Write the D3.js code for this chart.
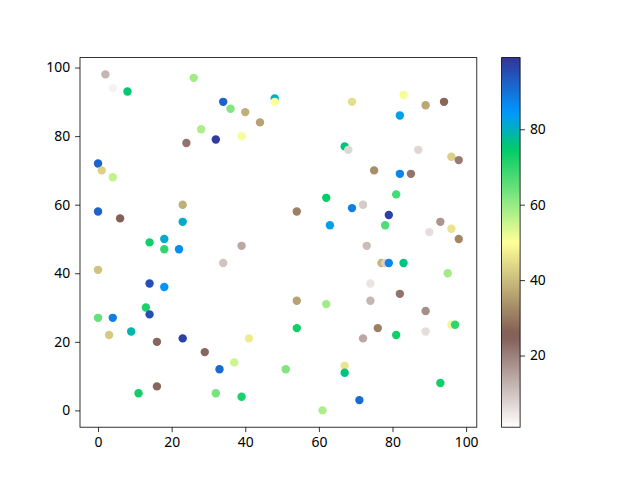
<!DOCTYPE html>
<html><head><meta charset="utf-8">
<script src="https://cdn.jsdelivr.net/npm/d3@7"></script>
<style>body{margin:0;background:#fff}svg{display:block}text{font-family:"Noto Sans",sans-serif;font-size:13.9px;fill:#000}</style>
</head><body><svg id="c" width="640" height="480"></svg>
<script>
const xs = [2,4,8,26,34,36,40,44,48,48,28,24,32,39,0,1,4,0,6,23,23,14,18,39,
  18,22,34,0,14,18,13,14,0,4,3,9,16,23,29,41,37,33,16,11,32,39,
  69,83,89,94,82,67,68,87,96,98,75,82,85,62,81,54,69,72,63,79,78,93,90,96,98,73,
  77,78,79,83,95,74,82,54,62,74,89,54,76,81,72,89,96,97,51,67,67,93,71,61];
const ys = [98,94,93,97,90,88,87,84,91,90,82,78,79,80,72,70,68,58,56,60,55,49,50,48,
  47,47,43,41,37,36,30,28,27,27,22,23,20,21,17,21,14,12,7,5,5,4,
  90,92,89,90,86,77,76,76,74,73,70,69,69,62,63,58,59,60,54,57,54,55,52,53,50,48,
  43,43,43,43,40,37,34,32,31,32,29,24,24,22,21,23,25,25,12,13,11,8,3,0];
const cs = [12,3,75,59,92,62,38,36,80,50,58,22,98,51,92,43,56,92,25,38,81,73,81,14,
  70,86,10,41,95,85,72,95,65,88,42,79,24,97,24,47,55,91,24,73,63,72,
  45,51,37,27,83,76,7,7,43,21,33,87,22,74,68,31,88,9,83,97,67,17,6,46,32,11,
  39,8,87,76,59,5,22,36,59,12,18,73,31,73,14,6,52,70,62,46,76,73,91,58];
const cMin = 1, cMax = 99;
const cbTicks = [20,40,60,80];
const xTicks = [0,20,40,60,80,100];
const yTicks = [0,20,40,60,80,100];

// terrain colormap (matplotlib), reversed
const terrainStops = [[0,[0.2,0.2,0.6]],[0.15,[0,0.6,1]],[0.25,[0,0.8,0.4]],[0.5,[1,1,0.6]],[0.75,[0.5,0.36,0.33]],[1,[1,1,1]]];
function terrain(t){
  t=Math.max(0,Math.min(1,t));
  for(let i=1;i<terrainStops.length;i++){
    const [t1,c1]=terrainStops[i];
    if(t<=t1){const [t0,c0]=terrainStops[i-1];const f=(t-t0)/(t1-t0);
      return d3.rgb(...c0.map((v,k)=>255*(v+(c1[k]-v)*f))).formatHex();}
  }
  return "#ffffff";
}
const cmap = t => terrain(1-t);

const svg=d3.select("#c");
const L=80,R=476.8,T=57.6,B=427.2;
function padded(arr){const [a,b]=d3.extent(arr);const p=(b-a)*0.05;return [a-p,b+p];}
const x=d3.scaleLinear().domain(padded(xs)).range([L,R]);
const y=d3.scaleLinear().domain(padded(ys)).range([B,T]);
const cNorm=d3.scaleLinear().domain([cMin,cMax]).range([0,1]).clamp(true);

const g=svg.append("g");
g.selectAll("circle").data(xs.map((v,i)=>({x:v,y:ys[i],c:cs[i]}))).join("circle")
  .attr("cx",d=>x(d.x)).attr("cy",d=>y(d.y)).attr("r",4.2)
  .attr("fill",d=>cmap(cNorm(d.c)));

function styleAxis(sel){sel.select(".domain").remove();sel.selectAll("line").attr("stroke","#000").attr("stroke-width",0.8);sel.selectAll("text").attr("fill","#000").style("font-size","13.9px").style("font-family","Noto Sans, sans-serif");}
svg.append("g").attr("transform",`translate(0,${B})`).call(d3.axisBottom(x).tickValues(xTicks).tickSize(4.9).tickPadding(4.9)).call(styleAxis);
svg.append("g").attr("transform",`translate(${L},0)`).call(d3.axisLeft(y).tickValues(yTicks).tickSize(4.9).tickPadding(4.9)).call(styleAxis);
svg.append("rect").attr("x",L).attr("y",T).attr("width",R-L).attr("height",B-T).attr("fill","none").attr("stroke","#000").attr("stroke-width",0.8);

// colorbar
const cbL=501.6,cbW=18.5;
const defs=svg.append("defs");
const grad=defs.append("linearGradient").attr("id","cg").attr("x1",0).attr("y1",1).attr("x2",0).attr("y2",0);
d3.range(0,1.0001,0.02).forEach(t=>grad.append("stop").attr("offset",t).attr("stop-color",cmap(t)));
svg.append("rect").attr("x",cbL).attr("y",T).attr("width",cbW).attr("height",B-T).attr("fill","url(#cg)");
const cy=d3.scaleLinear().domain([cMin,cMax]).range([B,T]);
svg.append("g").attr("transform",`translate(${cbL+cbW},0)`).call(d3.axisRight(cy).tickValues(cbTicks).tickSize(4.9).tickPadding(4.9)).call(styleAxis);
svg.append("rect").attr("x",cbL).attr("y",T).attr("width",cbW).attr("height",B-T).attr("fill","none").attr("stroke","#000").attr("stroke-width",0.8);
</script></body></html>
